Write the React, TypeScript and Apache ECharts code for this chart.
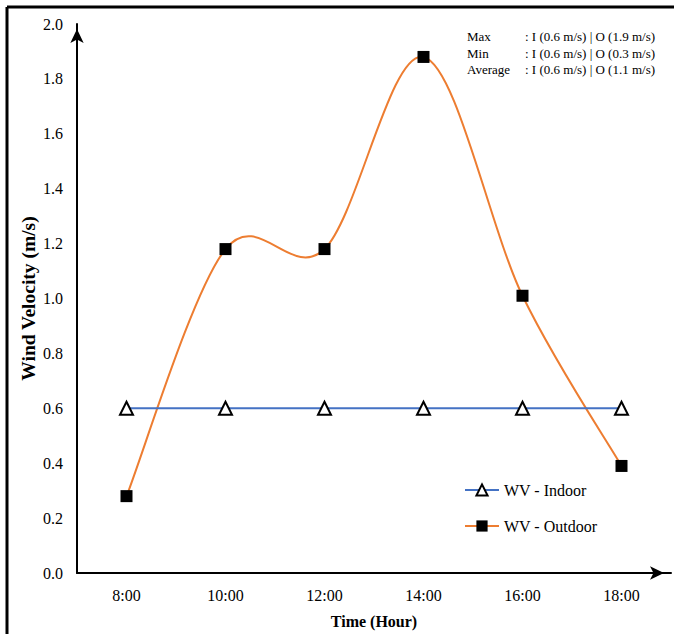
import React, { useEffect, useRef } from "react";
import * as echarts from "echarts";

const categories = ["8:00", "10:00", "12:00", "14:00", "16:00", "18:00"];
const indoor = [0.6, 0.6, 0.6, 0.6, 0.6, 0.6];
const outdoor = [0.28, 1.18, 1.18, 1.88, 1.01, 0.39];
const statLabels = ["Max", "Min", "Average"];
const statValues = [
  ": I (0.6 m/s) | O (1.9 m/s)",
  ": I (0.6 m/s) | O (0.3 m/s)",
  ": I (0.6 m/s) | O (1.1 m/s)",
];

const FONT = "Liberation Serif";

export default function App() {
  const ref = useRef<HTMLDivElement>(null);
  useEffect(() => {
    if (!ref.current) return;
    const chart = echarts.init(ref.current, undefined, { renderer: "svg" });
    const statTexts: any[] = [];
    statLabels.forEach((l, i) => {
      statTexts.push({
        type: "text",
        left: 467,
        top: 30 + i * 16.5,
        style: { text: l, fontFamily: FONT, fontSize: 13, fill: "#000" },
      });
      statTexts.push({
        type: "text",
        left: 525,
        top: 30 + i * 16.5,
        style: { text: statValues[i], fontFamily: FONT, fontSize: 13, fill: "#000" },
      });
    });

    // Catmull-Rom smooth curve (Excel-style smoothing) drawn through the chart's own scales
    const renderSmooth = (params: any, api: any) => {
      if (params.dataIndex !== 0) return null;
      const pts = outdoor.map((v, i) => api.coord([i, v]));
      const n = pts.length;
      let d = `M${pts[0][0]},${pts[0][1]}`;
      for (let i = 0; i < n - 1; i++) {
        const p0 = pts[Math.max(0, i - 1)];
        const p1 = pts[i];
        const p2 = pts[i + 1];
        const p3 = pts[Math.min(n - 1, i + 2)];
        const c1x = p1[0] + (p2[0] - p0[0]) / 6;
        const c1y = p1[1] + (p2[1] - p0[1]) / 6;
        const c2x = p2[0] - (p3[0] - p1[0]) / 6;
        const c2y = p2[1] - (p3[1] - p1[1]) / 6;
        d += ` C${c1x},${c1y} ${c2x},${c2y} ${p2[0]},${p2[1]}`;
      }
      return {
        type: "path",
        shape: { pathData: d },
        style: { stroke: "#ED7D31", lineWidth: 2, fill: "none" },
        silent: true,
      };
    };

    chart.setOption({
      animation: false,
      backgroundColor: "#fff",
      textStyle: { fontFamily: FONT },
      grid: { left: 77, right: 3, top: 24, bottom: 61 },
      legend: {
        orient: "vertical",
        left: 459,
        top: 477,
        itemWidth: 34,
        itemHeight: 14,
        itemGap: 20,
        textStyle: { fontFamily: FONT, fontSize: 16, color: "#000" },
        lineStyle: { opacity: 1 },
        data: ["WV - Indoor", "WV - Outdoor"],
      },
      xAxis: {
        type: "category",
        data: categories,
        boundaryGap: true,
        name: "Time (Hour)",
        nameLocation: "middle",
        nameGap: 40,
        nameMoveOverlap: false,
        nameTextStyle: { fontFamily: FONT, fontSize: 16, fontWeight: "bold", color: "#000" },
        axisLine: {
          lineStyle: { color: "#000", width: 2 },
          symbol: ["none", "arrow"],
          symbolSize: [10, 14],
          symbolOffset: [0, -7],
        },
        axisTick: { show: false },
        axisLabel: { fontFamily: FONT, fontSize: 16, color: "#000", margin: 14 },
        splitLine: { show: false },
      },
      yAxis: {
        type: "value",
        min: 0,
        max: 2,
        interval: 0.2,
        name: "Wind Velocity (m/s)",
        nameLocation: "middle",
        nameGap: 39,
        nameMoveOverlap: false,
        nameTextStyle: { fontFamily: FONT, fontSize: 19.5, fontWeight: "bold", color: "#000" },
        axisLine: {
          show: true,
          lineStyle: { color: "#000", width: 2 },
          symbol: ["none", "arrow"],
          symbolSize: [10, 14],
          symbolOffset: [0, -5],
        },
        axisTick: { show: false },
        axisLabel: {
          fontFamily: FONT,
          fontSize: 16,
          color: "#000",
          margin: 14,
          formatter: (v: number) => v.toFixed(1),
        },
        splitLine: { show: false },
      },
      series: [
        {
          name: "WV - Indoor",
          type: "line",
          data: indoor,
          lineStyle: { color: "#4472C4", width: 2 },
          itemStyle: { color: "#fff", borderColor: "#000", borderWidth: 2 },
          symbol: "triangle",
          symbolSize: [13, 13],
          z: 3,
        },
        {
          name: "WV - Outdoor curve",
          type: "custom",
          data: outdoor.map((v, i) => [i, v]),
          renderItem: renderSmooth,
          z: 2,
          silent: true,
        },
        {
          name: "WV - Outdoor",
          type: "line",
          data: outdoor,
          lineStyle: { color: "#ED7D31", width: 2, opacity: 0 },
          itemStyle: { color: "#000", borderColor: "#000", borderWidth: 0 },
          symbol: "rect",
          symbolSize: 12,
          z: 4,
        },
      ],
      graphic: [
        {
          type: "line",
          shape: { x1: 7, y1: 7, x2: 674, y2: 7 },
          style: { stroke: "#000", lineWidth: 3 },
        },
        {
          type: "line",
          shape: { x1: 7, y1: 7, x2: 7, y2: 634 },
          style: { stroke: "#000", lineWidth: 3 },
        },
        ...statTexts,
      ],
    });
    return () => chart.dispose();
  }, []);
  return (
    <div
      ref={ref}
      style={{ position: "fixed", left: 0, top: 0, width: 674, height: 634 }}
    />
  );
}
